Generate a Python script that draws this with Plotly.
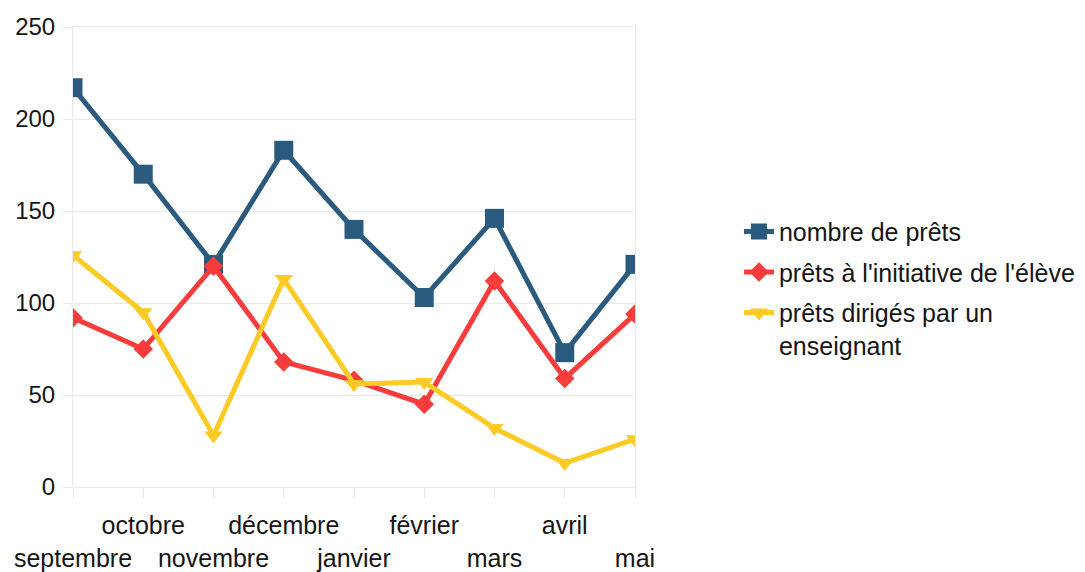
import plotly.graph_objects as go

mois = ["septembre", "octobre", "novembre", "décembre", "janvier",
        "février", "mars", "avril", "mai"]
nombre_prets = [217, 170, 121, 183, 140, 103, 146, 73, 121]
prets_eleve = [92, 75, 120, 68, 58, 45, 112, 59, 94]
prets_enseignant = [126, 95, 28, 113, 56, 57, 32, 13, 26]
y_ticks = [0, 50, 100, 150, 200, 250]

# staggered tick labels (odd months on upper row, even on lower row)
tick_text = [(" <br>" + m) if i % 2 == 0 else (m + "<br> ") for i, m in enumerate(mois)]

FONT = "Liberation Sans, Arial, sans-serif"
BLUE = "#2a5b7f"
RED = "#f83c3c"
YELLOW = "#fdca26"
GRID = "#e8e8ee"

fig = go.Figure()
fig.add_trace(go.Scatter(
    x=mois, y=nombre_prets, name="nombre de prêts", mode="lines+markers",
    legendgroup="a",
    line=dict(color=BLUE, width=5),
    marker=dict(symbol="square", size=19, color=BLUE)))
fig.add_trace(go.Scatter(
    x=mois, y=prets_eleve, name="prêts à l'initiative de l'élève", mode="lines+markers",
    legendgroup="b",
    line=dict(color=RED, width=5),
    marker=dict(symbol="diamond", size=15, color=RED)))
fig.add_trace(go.Scatter(
    x=mois, y=prets_enseignant, name="prêts dirigés par un<br>enseignant", mode="lines+markers",
    legendgroup="c",
    line=dict(color=YELLOW, width=5),
    marker=dict(symbol="triangle-down", size=16, color=YELLOW)))

fig.update_layout(
    width=1077, height=564,
    margin=dict(l=65, r=450, t=19, b=85, autoexpand=False),
    paper_bgcolor="white", plot_bgcolor="white",
    font=dict(family=FONT, size=24, color="#151515"),
    showlegend=True,
    legend=dict(x=1.185, xanchor="left", y=0.432, yanchor="middle",
                valign="top",
                font=dict(family=FONT, size=25, color="#151515"),
                bgcolor="rgba(0,0,0,0)", tracegroupgap=5),
)
fig.update_xaxes(
    type="category", categoryorder="array", categoryarray=mois,
    range=[0, 8], tickvals=mois, ticktext=tick_text, automargin=False,
    showgrid=False, showline=True, linecolor=GRID, linewidth=1, mirror=True,
    ticks="outside", ticklen=10, tickcolor=GRID, tickangle=0,
    ticklabelstandoff=6,
    tickfont=dict(family=FONT, size=25, color="#151515"),
    zeroline=False,
)
fig.update_yaxes(
    range=[0, 250], tickvals=y_ticks, automargin=False,
    showgrid=True, gridcolor=GRID, gridwidth=1,
    showline=True, linecolor=GRID, linewidth=1, mirror=True,
    ticks="outside", ticklen=9, tickcolor=GRID, ticklabelstandoff=3,
    tickfont=dict(family=FONT, size=24, color="#151515"),
    zeroline=False,
)

fig.write_html("out.html")
